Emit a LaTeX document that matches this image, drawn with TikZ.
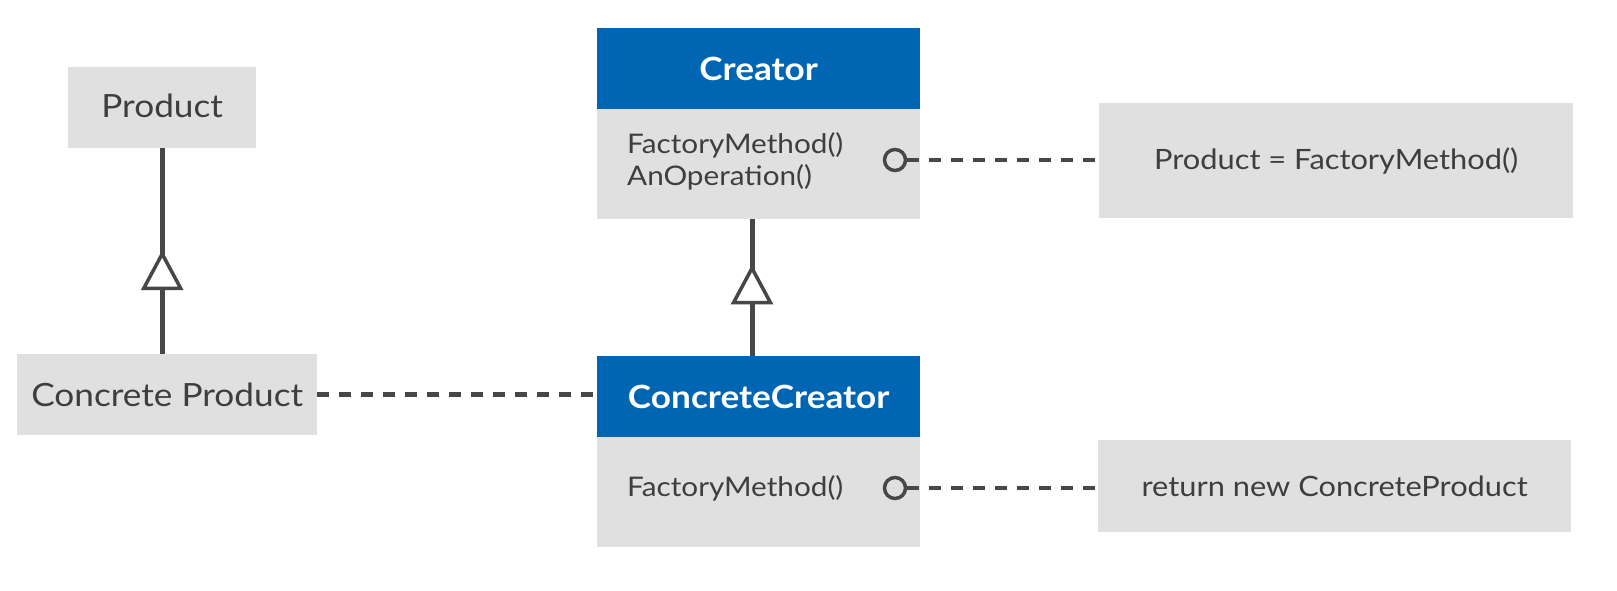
\documentclass[tikz,border=0pt]{standalone}
\usepackage{fontspec}
\setmainfont{Lato}[FakeStretch=1.1]
\usetikzlibrary{arrows.meta,decorations.markings}
\definecolor{boxgray}{HTML}{E0E0E0}
\definecolor{hdrblue}{HTML}{0066B3}
\definecolor{ink}{HTML}{3E3E3E}
\definecolor{wire}{HTML}{474747}
\begin{document}
\begin{tikzpicture}[x=1pt,y=-1pt,
  plainbox/.style={fill=boxgray, draw=none, inner sep=0pt, text=ink, anchor=north west},
  header/.style={fill=hdrblue, draw=none, inner sep=0pt, text=white, anchor=north west,
    minimum width=323pt, minimum height=81pt, font=\fontsize{32}{38}\selectfont\bfseries},
  body/.style={fill=boxgray, draw=none, inner sep=0pt, anchor=north west, minimum width=323pt},
  member/.style={text=ink, inner sep=0pt, anchor=west, align=left,
    font=\fontsize{27}{32}\selectfont},
  socket/.style={circle, draw=wire, line width=3.5pt, fill=boxgray, minimum size=21pt, inner sep=0pt},
  note/.style={dashed, dash pattern=on 12pt off 10pt, line width=4.5pt, draw=wire},
  inherit/.style={line width=5pt, draw=wire, postaction=decorate,
    decoration={markings, mark=at position #1 with {\arrow{Triangle[length=40pt,width=42pt,line width=3.5pt,fill=white]}}}}
]
\useasboundingbox (0,0) rectangle (1617,590);
\fill[white] (0,0) rectangle (1617,590);

% product hierarchy
\node[plainbox, minimum width=188pt, minimum height=81pt, text depth=4pt, font=\fontsize{32}{38}\selectfont]
  (product) at (68,67) {Product};
\node[plainbox, minimum width=300pt, minimum height=81pt, font=\fontsize{32}{38}\selectfont]
  (cproduct) at (17,354) {Concrete Product};

% creator class
\node[header] (creatorhd) at (597,28) {Creator};
\node[body, minimum height=110pt] (creatorbd) at (597,109) {};
\node[member] (creatorops) at (627,161) {FactoryMethod()\\AnOperation()};

% concrete creator class
\node[header] (ccreatorhd) at (597,356) {ConcreteCreator};
\node[body, minimum height=110pt] (ccreatorbd) at (597,437) {};
\node[member] (ccreatorops) at (627,488) {FactoryMethod()};

% implementation notes
\node[plainbox, minimum width=474pt, minimum height=115pt, font=\fontsize{28}{32}\selectfont]
  (note1) at (1099,103) {Product = FactoryMethod()};
\node[plainbox, minimum width=473pt, minimum height=92pt, font=\fontsize{28}{32}\selectfont]
  (note2) at (1098,440) {return new ConcreteProduct};

% attachment points of the notes
\node[socket] (sock1) at (895,160) {};
\node[socket] (sock2) at (895,488) {};

% connectors
\draw[inherit=0.505] (cproduct.north -| product.south) -- (product.south);
\draw[inherit=0.67] (ccreatorhd.north -| 752,0) -- (creatorbd.south -| 752,0);
\draw[note] (sock1.east) -- (note1.west |- sock1.east);
\draw[note] (sock2.east) -- (note2.west |- sock2.east);
\draw[note] (cproduct.east) -- (ccreatorhd.west |- cproduct.east);
\end{tikzpicture}
\end{document}
